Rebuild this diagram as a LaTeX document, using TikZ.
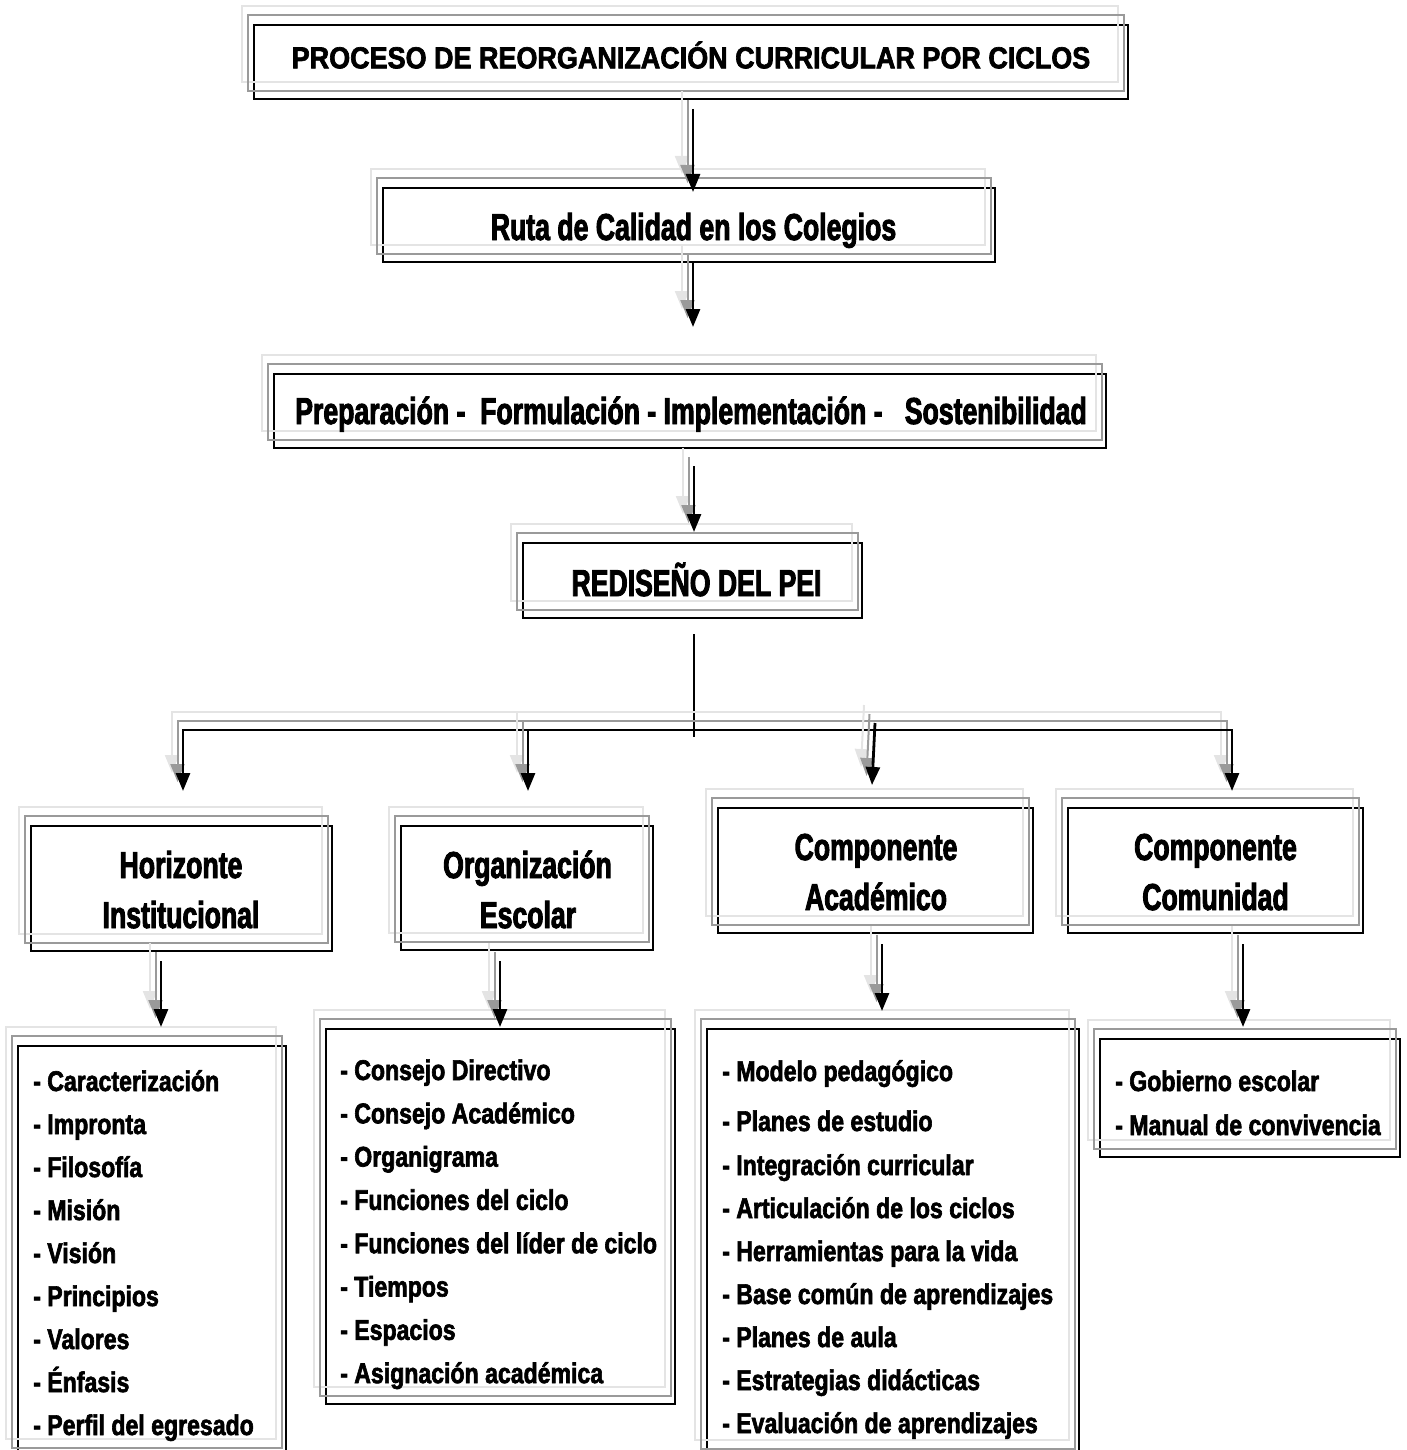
\documentclass[tikz,border=0pt]{standalone}
\usepackage{fontspec}
\usetikzlibrary{arrows.meta}
\newfontfamily\fhead[FakeStretch=0.71,FakeBold=2.4]{Liberation Sans Bold}
\newfontfamily\ftitle[FakeStretch=0.89,FakeBold=2.2]{Liberation Sans Bold}
\newfontfamily\flist[FakeStretch=0.81,FakeBold=2.2]{Liberation Sans Bold}
\definecolor{shm}{HTML}{9A9A9A}
\definecolor{shl}{HTML}{E4E4E4}
\newcommand\boxshadows[1]{%
  \draw[sha] (#1.north west) rectangle (#1.south east);
  \draw[shb] (#1.north west) rectangle (#1.south east);}
\newcommand\triarrow[2]{%
  \draw[arr,sha] #1 -- #2;
  \draw[arr,shb] #1 -- #2;
  \draw[arr] #1 -- #2;}
\begin{document}
\begin{tikzpicture}[x=1pt,y=-1pt,
  box/.style={draw=black, line width=2pt, inner sep=0pt},
  sha/.style={draw=shl, line width=2pt, transform canvas={shift={(-11,-18)}}},
  shb/.style={draw=shm, line width=2pt, transform canvas={shift={(-5.5,-9)}}},
  arr/.style={line width=2.8pt, -{Triangle[length=18pt,width=14pt]}},
  arrboth/.style={line width=2.8pt, {Triangle[length=18pt,width=14pt]}-{Triangle[length=18pt,width=14pt]}},
  ttl/.style={inner sep=0pt, anchor=base, font=\ftitle\fontsize{30.3pt}{36pt}\selectfont},
  head/.style={inner sep=0pt, anchor=base, font=\fhead\fontsize{37.5pt}{45pt}\selectfont},
  item/.style={inner sep=0pt, anchor=base west, font=\flist\fontsize{28.5pt}{34pt}\selectfont},
]
\useasboundingbox (0,0) rectangle (1406,1450);

% ---------- boxes ----------
\node[box, minimum width=874pt, minimum height=74pt] (P) at (691,62) {};
\node[box, minimum width=612pt, minimum height=74pt] (R) at (689,225) {};
\node[box, minimum width=832pt, minimum height=74pt] (Pr) at (690,411) {};
\node[box, minimum width=339pt, minimum height=75pt] (RED) at (692.5,580.5) {};
\node[box, minimum width=301pt, minimum height=125pt] (H) at (181.5,888.5) {};
\node[box, minimum width=252pt, minimum height=124pt] (O) at (527,888) {};
\node[box, minimum width=315pt, minimum height=125pt] (CA) at (875.5,870.5) {};
\node[box, minimum width=295pt, minimum height=125pt] (CC) at (1215.5,870.5) {};
\node[box, minimum width=268pt, minimum height=410pt] (LH) at (152,1251) {};
\node[box, minimum width=349pt, minimum height=375pt] (LO) at (500.5,1216.5) {};
\node[box, minimum width=372pt, minimum height=428pt] (LCA) at (893,1243) {};
\node[box, minimum width=300pt, minimum height=118pt] (LCC) at (1250,1098) {};

\foreach \n in {P,R,Pr,RED,H,O,CA,CC,LH,LO,LCA,LCC}{\boxshadows{\n}}

% ---------- texts ----------
\node[ttl] (tP) at (691,68.3) {PROCESO DE REORGANIZACIÓN CURRICULAR POR CICLOS};
\node[head] (tR) at (693.5,240) {Ruta de Calidad en los Colegios};
\node[head] (tPr) at (691,424) {Preparación -~ Formulación - Implementación -~~ Sostenibilidad};
\node[head] (tRED) at (696.5,596) {REDISEÑO DEL PEI};
\node[head] (tH1) at (181,878) {Horizonte};
\node[head] (tH2) at (181,928) {Institucional};
\node[head] (tO1) at (527.5,878) {Organización};
\node[head] (tO2) at (528,928) {Escolar};
\node[head] (tCA1) at (876,860) {Componente};
\node[head] (tCA2) at (876,910) {Académico};
\node[head] (tCC1) at (1215.5,860) {Componente};
\node[head] (tCC2) at (1215.5,910) {Comunidad};

\foreach \t [count=\i from 0] in {Caracterización,Impronta,Filosofía,Misión,Visión,Principios,Valores,Énfasis,Perfil del egresado}
  \node[item] (lh\i) at (33,1091+43*\i) {- \t};
\foreach \t [count=\i from 0] in {Consejo Directivo,Consejo Académico,Organigrama,Funciones del ciclo,Funciones del líder de ciclo,Tiempos,Espacios,Asignación académica}
  \node[item] (lo\i) at (340,1080+43.3*\i) {- \t};
\node[item] (lca0) at (722,1081) {- Modelo pedagógico};
\node[item] (lca1) at (722,1131) {- Planes de estudio};
\foreach \t [count=\i from 2] in {Integración curricular,Articulación de los ciclos,Herramientas para la vida,Base común de aprendizajes,Planes de aula,Estrategias didácticas,Evaluación de aprendizajes}
  \node[item] (lca\i) at (722,1175+43*\i-86) {- \t};
\node[item] (lcc0) at (1115,1091) {- Gobierno escolar};
\node[item] (lcc1) at (1115,1135) {- Manual de convivencia};

% ---------- connectors ----------
\triarrow{([xshift=2pt,yshift=-9pt]P.south)}{([xshift=4pt,yshift=-5pt]R.north)}
\triarrow{([xshift=4pt]R.south)}{([xshift=3pt,yshift=46pt]Pr.north)}
\triarrow{([xshift=4pt,yshift=-17pt]Pr.south)}{([xshift=1.5pt,yshift=10pt]RED.north)}

\coordinate (J) at (694,737);
\draw[line width=1.2pt] ([xshift=1.5pt,yshift=-15pt]RED.south) -- (J);

\coordinate (bL) at (183,730);
\coordinate (bR) at (1232,730);
\coordinate (bO) at (528,730);
\coordinate (bCA) at (875,723);
\draw[arrboth,sha] ([xshift=1.5pt,yshift=34pt]H.north) -- (bL) -- (bR) -- ([xshift=16.5pt,yshift=16pt]CC.north);
\draw[arrboth,shb] ([xshift=1.5pt,yshift=34pt]H.north) -- (bL) -- (bR) -- ([xshift=16.5pt,yshift=16pt]CC.north);
\draw[arrboth] ([xshift=1.5pt,yshift=34pt]H.north) -- (bL) -- (bR) -- ([xshift=16.5pt,yshift=16pt]CC.north);
\triarrow{(bO)}{([xshift=1pt,yshift=34pt]O.north)}
\triarrow{(bCA)}{([xshift=-3.5pt,yshift=22pt]CA.north)}

\triarrow{([xshift=-20.5pt,yshift=-9pt]H.south)}{([xshift=9pt,yshift=18pt]LH.north)}
\triarrow{([xshift=-27pt,yshift=-10pt]O.south)}{([xshift=-0.5pt,yshift=1pt]LO.north)}
\triarrow{([xshift=6.5pt,yshift=-10pt]CA.south)}{([xshift=-11pt,yshift=17pt]LCA.north)}
\triarrow{([xshift=27.5pt,yshift=-10pt]CC.south)}{([xshift=-7pt,yshift=11pt]LCC.north)}
\end{tikzpicture}
\end{document}
